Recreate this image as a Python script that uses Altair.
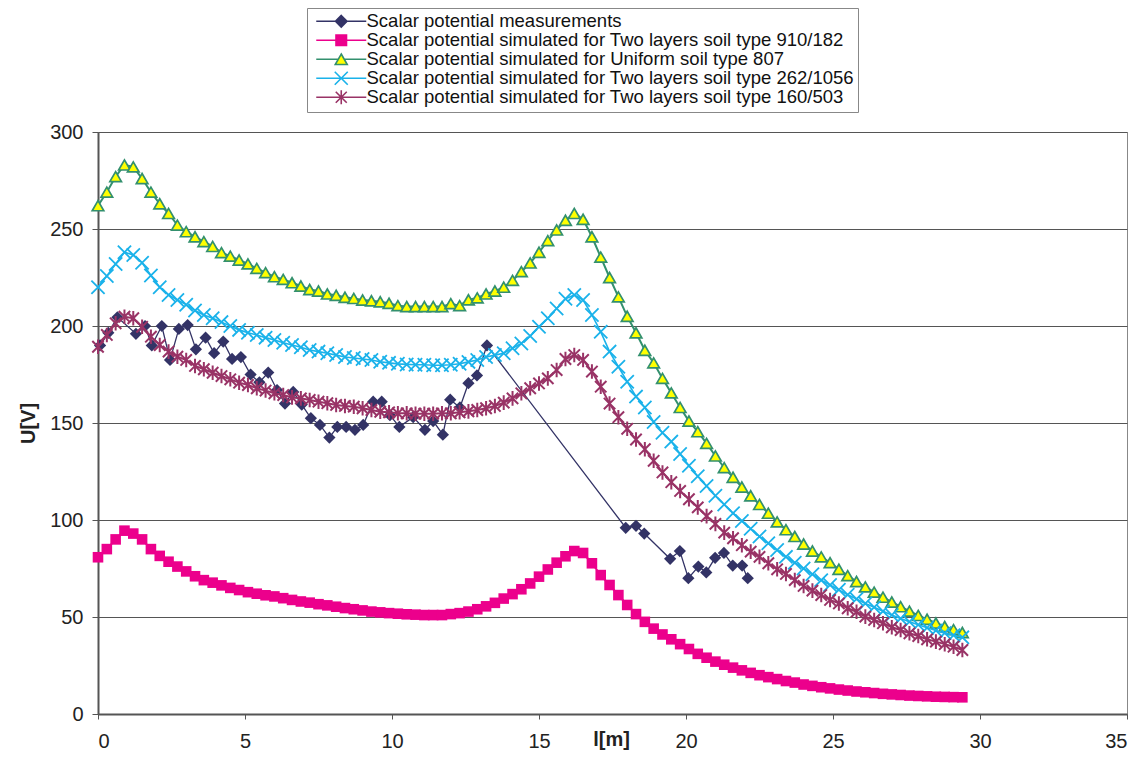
import altair as alt
import pandas as pd

# ---------------- data ----------------
x_sim = [0.0, 0.3, 0.6, 0.9, 1.2, 1.5, 1.8, 2.1, 2.4, 2.7,
         3.0, 3.3, 3.6, 3.9, 4.2, 4.5, 4.8, 5.1, 5.4, 5.7,
         6.0, 6.3, 6.6, 6.9, 7.2, 7.5, 7.8, 8.1, 8.4, 8.7,
         9.0, 9.3, 9.6, 9.9, 10.2, 10.5, 10.8, 11.1, 11.4, 11.7,
         12.0, 12.3, 12.6, 12.9, 13.2, 13.5, 13.8, 14.1, 14.4, 14.7,
         15.0, 15.3, 15.6, 15.9, 16.2, 16.5, 16.8, 17.1, 17.4, 17.7,
         18.0, 18.3, 18.6, 18.9, 19.2, 19.5, 19.8, 20.1, 20.4, 20.7,
         21.0, 21.3, 21.6, 21.9, 22.2, 22.5, 22.8, 23.1, 23.4, 23.7,
         24.0, 24.3, 24.6, 24.9, 25.2, 25.5, 25.8, 26.1, 26.4, 26.7,
         27.0, 27.3, 27.6, 27.9, 28.2, 28.5, 28.8, 29.1, 29.4]

u_two_910_182 = [80.8, 85, 90, 94.5, 93, 90, 85, 81.5, 78.5, 76,
                 73.5, 71, 69, 67.7, 66.3, 65, 63.9, 62.8, 62, 61.2,
                 60.6, 59.7, 58.8, 58, 57.4, 56.6, 56, 55.3, 54.6, 54,
                 53.4, 52.8, 52.4, 52, 51.7, 51.4, 51.2, 51, 51, 51,
                 51.5, 52, 52.8, 54, 55.5, 57.3, 59.5, 61.8, 64.3, 67.3,
                 70.8, 74.5, 78, 81.3, 84, 83, 77.7, 71.6, 66.5, 61.3,
                 56.2, 51.5, 47.5, 44, 41, 38.5, 36, 33.5, 31, 29,
                 27, 25.4, 23.9, 22.5, 21.2, 20, 19, 18, 17, 16.2,
                 15.2, 14.5, 13.8, 13.2, 12.6, 12.1, 11.6, 11.2, 10.8, 10.4,
                 10.1, 9.8, 9.5, 9.3, 9.1, 8.9, 8.8, 8.7, 8.6]

u_uniform_807 = [262, 269, 277, 283, 282, 276, 269, 263, 258, 252,
                 248.6, 246, 243.5, 241, 237.8, 236, 234, 232, 229.7, 227.5,
                 225.4, 224, 222.3, 220.6, 218.8, 218, 216.5, 215.8, 214.8, 214.2,
                 213.4, 213, 212.5, 211.7, 210.5, 210, 210, 210, 210, 210,
                 211.5, 210.5, 213.5, 214.5, 216.5, 218, 220, 223.5, 228, 232.5,
                 238, 244, 249.5, 254.5, 258, 255, 246, 235.5, 225, 215,
                 205, 196.5, 187.5, 181, 173, 165.5, 158, 151, 145.5, 139.5,
                 133, 127, 122, 117, 112.5, 108, 103.5, 99, 95, 91.5,
                 87.6, 84, 81, 78, 74.6, 71.3, 68.3, 65.5, 62.8, 60.2,
                 57.7, 55.3, 53, 50.8, 48.8, 46.9, 45.1, 43.5, 42]

u_two_262_1056 = [220, 225.8, 232, 238, 236.6, 232.6, 226, 220, 216, 213.4,
                  211, 208, 205.7, 204, 202, 200, 198, 196.5, 195.4, 194,
                  192.8, 191.4, 190.2, 189, 187.6, 186.8, 186, 185, 184, 183.5,
                  183, 182.5, 181.6, 181, 180.5, 180.2, 180, 180, 179.8, 179.8,
                  180, 180.5, 181.5, 182.5, 184, 185, 186, 188.5, 191, 194.8,
                  199.6, 204, 209, 214, 216, 213.4, 205.7, 197, 186.8, 179,
                  171.3, 163.6, 158, 150.5, 145, 140.4, 134, 128, 122.5, 117.5,
                  112.5, 108, 103.5, 99.5, 95.5, 91.5, 88, 84.5, 81, 78,
                  75, 72, 69, 66.5, 64, 61.5, 59.3, 57, 55, 53,
                  51, 49.2, 47.5, 46, 44.5, 43, 41.7, 40.6, 39.5]

u_two_160_503 = [189.3, 195.4, 201.4, 204.8, 204, 199.6, 194.5, 190.2, 186.8, 184.2,
                 182.5, 179.4, 177.7, 175.9, 174.2, 172.5, 170.8, 169.6, 167.9, 166.7,
                 165.3, 164.4, 163.2, 162.7, 161.9, 161, 160.2, 159.3, 158.8, 158.4,
                 157.6, 156.7, 155.8, 155.5, 155, 155, 154.8, 154.8, 154.8, 155,
                 155, 155.5, 156, 156.7, 157.6, 158.8, 160.5, 162.7, 165.3, 167.9,
                 170.4, 173, 177.3, 183, 185, 182.5, 176.5, 168.7, 160, 153,
                 147, 141.5, 136.5, 130.5, 124.5, 119.5, 115, 110.7, 106.5, 102,
                 98, 93.5, 90.6, 87, 83.7, 81, 77.7, 74.6, 72.2, 69,
                 66, 63.6, 61.3, 58.8, 57, 54.5, 52.7, 50.2, 48.5, 46.8,
                 44.7, 43.3, 41.6, 40.2, 38.5, 37.3, 36, 34.7, 33]

x_meas = [0.07, 0.35, 0.66, 1.29, 1.6, 1.83, 2.17, 2.45, 2.75, 3.05,
          3.33, 3.66, 3.95, 4.26, 4.56, 4.86, 5.19, 5.49, 5.79, 6.09,
          6.36, 6.64, 6.93, 7.24, 7.55, 7.87, 8.14, 8.44, 8.74, 9.02,
          9.36, 9.65, 9.93, 10.25, 10.72, 11.12, 11.4, 11.73, 11.98, 12.31,
          12.6, 12.89, 13.23, 17.95, 18.3, 18.58, 19.46, 19.79, 20.08, 20.42,
          20.69, 20.99, 21.29, 21.59, 21.91, 22.1]
u_meas = [190, 196.5, 204.5, 196, 200, 190, 200, 182.5, 198.5, 200.5,
          188, 194, 186, 192, 183, 184, 175, 171, 176, 167,
          160, 166, 159.5, 152.5, 149, 142.5, 148, 148, 146.5, 149,
          161, 161, 154, 148, 153, 146.5, 151, 144, 162, 158,
          170.5, 174.5, 190, 96, 97, 93, 80, 84, 70, 76,
          73, 80.5, 83, 76.5, 76.5, 70]

series_names = [
    "Scalar potential measurements",
    "Scalar potential simulated for Two layers soil type 910/182",
    "Scalar potential simulated for Uniform soil type 807",
    "Scalar potential simulated for Two layers soil type 262/1056",
    "Scalar potential simulated for Two layers soil type 160/503",
]
x_ticks = [0, 5, 10, 15, 20, 25, 30, 35]
y_ticks = [0, 50, 100, 150, 200, 250, 300]

# ---------------- styles ----------------
NAVY = "#333366"
PINK = "#ec008c"
GREEN = "#33906e"
YELLOW = "#ffff00"
CYAN = "#1ab2ea"
PURPLE = "#993366"
FONT = "Liberation Sans"

X_PATH = "M-1,-1L1,1M-1,1L1,-1"
AST_PATH = "M-0.9,-0.9L0.9,0.9M-0.9,0.9L0.9,-0.9M0,-1.15L0,1.15"

LEG_PATHS = [
    "M-5,0L5,0M0,-1.15L1.15,0L0,1.15L-1.15,0Z",
    "M-5,0L5,0M-1.05,-1.05L1.05,-1.05L1.05,1.05L-1.05,1.05Z",
    "M-5,0L-0.6,0M0.6,0L5,0M0,-1.05L1.2,1.05L-1.2,1.05Z",
    "M-5,0L5,0M-1.3,-1.3L1.3,1.3M-1.3,1.3L1.3,-1.3",
    "M-5,0L5,0M-1.1,-1.1L1.1,1.1M-1.1,1.1L1.1,-1.1M0,-1.4L0,1.4",
]
LEG_STROKE = [NAVY, PINK, GREEN, CYAN, PURPLE]
LEG_FILL = [NAVY, PINK, YELLOW, "transparent", "transparent"]

# ---------------- tables ----------------
df_meas = pd.DataFrame({"x": x_meas, "u": u_meas})
df_910 = pd.DataFrame({"x": x_sim, "u": u_two_910_182})
df_807 = pd.DataFrame({"x": x_sim, "u": u_uniform_807})
df_262 = pd.DataFrame({"x": x_sim, "u": u_two_262_1056})
df_160 = pd.DataFrame({"x": x_sim, "u": u_two_160_503})
df_leg = pd.DataFrame({"series": series_names})

X = alt.X("x:Q", title="l[m]",
          scale=alt.Scale(domain=[0, 35], nice=False, zero=False),
          axis=alt.Axis(values=x_ticks, grid=False, labelFont=FONT, labelFontSize=20,
                        labelColor="#222", labelPadding=12, tickSize=5, tickColor="#555",
                        domainColor="#555", domainWidth=2, titleFont=FONT, titleFontSize=20,
                        titleFontWeight="bold", titleColor="#222", titleX=513, titleY=25,
                        titleAlign="center", titleBaseline="middle"))
Y = alt.Y("u:Q", title="U[V]",
          scale=alt.Scale(domain=[0, 300], nice=False),
          axis=alt.Axis(values=y_ticks, grid=True, gridColor="#555", gridWidth=1,
                        labelFont=FONT, labelFontSize=20, labelColor="#222", labelPadding=9,
                        tickSize=6, tickColor="#555", domainColor="#555", domainWidth=2,
                        titleFont=FONT, titleFontSize=20, titleFontWeight="bold",
                        titleColor="#222", titleX=-70, titleY=291, titleAngle=270,
                        titleAlign="center", titleBaseline="middle"))

layers = []
# measurements
layers.append(alt.Chart(df_meas).mark_line(color=NAVY, strokeWidth=1.3).encode(X, Y))
layers.append(alt.Chart(df_meas).mark_point(shape="diamond", filled=True, color=NAVY,
                                            size=150, opacity=1, strokeWidth=0).encode(X, Y))
# two layers 910/182
layers.append(alt.Chart(df_910).mark_line(color=PINK, strokeWidth=2).encode(X, Y))
layers.append(alt.Chart(df_910).mark_point(shape="square", filled=True, color=PINK,
                                           size=112, opacity=1, strokeWidth=0).encode(X, Y))
# uniform 807
layers.append(alt.Chart(df_807).mark_line(color=GREEN, strokeWidth=2).encode(X, Y))
layers.append(alt.Chart(df_807).mark_point(shape="triangle-up", filled=True, fill=YELLOW,
                                           stroke=GREEN, strokeWidth=1.7, size=135,
                                           opacity=1).encode(X, Y))
# two layers 262/1056
layers.append(alt.Chart(df_262).mark_line(color=CYAN, strokeWidth=1.6).encode(X, Y))
layers.append(alt.Chart(df_262).mark_point(shape=X_PATH, filled=False, stroke=CYAN,
                                           strokeWidth=1.8, size=175, opacity=1).encode(X, Y))
# two layers 160/503
layers.append(alt.Chart(df_160).mark_line(color=PURPLE, strokeWidth=2).encode(X, Y))
layers.append(alt.Chart(df_160).mark_point(shape=AST_PATH, filled=False, stroke=PURPLE,
                                           strokeWidth=2, size=160, opacity=1).encode(X, Y))

# legend (symbols drawn by the legend only)
leg = alt.Legend(orient="none", legendX=209, legendY=-124, labelFont=FONT,
                 labelFontSize=18.5, labelColor="#111", labelLimit=800, symbolSize=100,
                 symbolOffset=21, labelOffset=16, padding=4, rowPadding=-5.6,
                 strokeColor="#888", fillColor="white", symbolStrokeWidth=1.6,
                 symbolOpacity=1)
legend_layer = alt.Chart(df_leg).transform_filter("false").mark_point(
    filled=True, opacity=1, strokeWidth=1.6).encode(
    shape=alt.Shape("series:N", title=None, legend=leg,
                    scale=alt.Scale(domain=series_names, range=LEG_PATHS)),
    stroke=alt.Stroke("series:N", title=None, legend=leg,
                      scale=alt.Scale(domain=series_names, range=LEG_STROKE)),
    fill=alt.Fill("series:N", title=None, legend=leg,
                  scale=alt.Scale(domain=series_names, range=LEG_FILL)),
)
layers.append(legend_layer)

chart = alt.layer(*layers).properties(
    width=1029, height=582,
    autosize=alt.AutoSizeParams(type="none"),
    padding={"left": 90, "top": 124, "right": 6, "bottom": 36},
    background="white",
).configure_view(stroke="#888", strokeWidth=1)

chart.save("out.html", embed_options={"renderer": "svg", "actions": False})
